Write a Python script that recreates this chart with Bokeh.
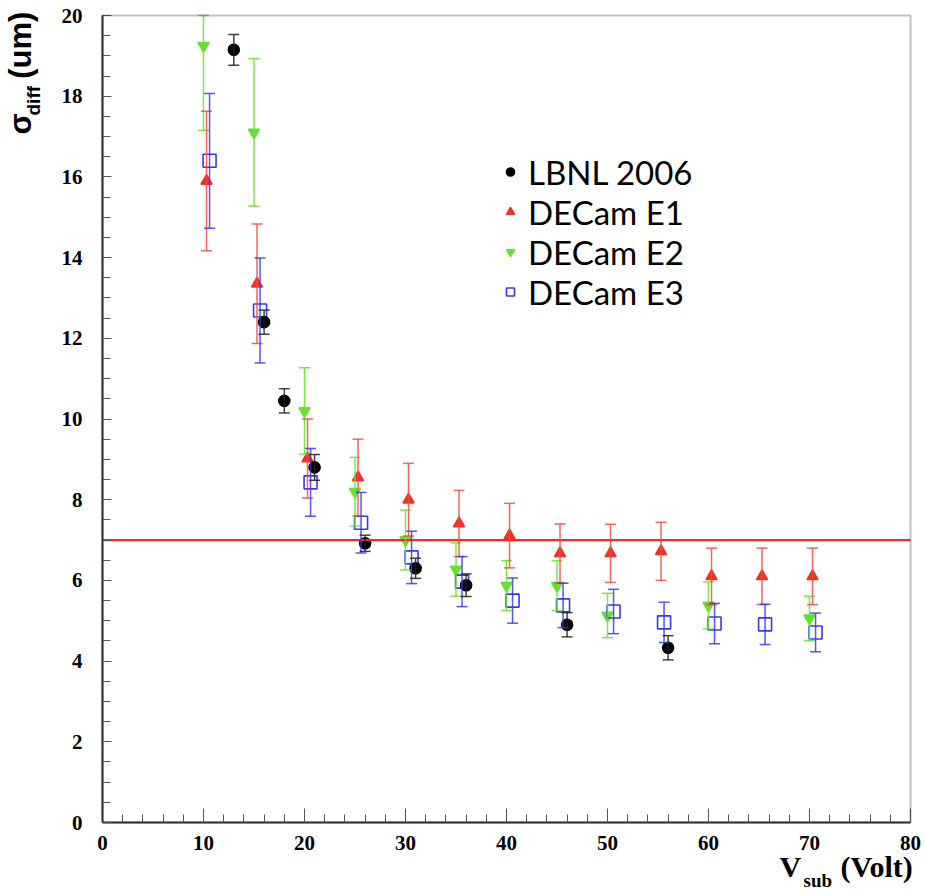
import math
from bokeh.plotting import figure
from bokeh.models import (ColumnDataSource, Whisker, TeeHead, Label, LinearAxis,
                          SingleIntervalTicker, Legend, LegendItem, Range1d, BoxAnnotation)
from bokeh.embed import file_html
from bokeh.resources import INLINE

# ---- data ----
lbnl_v = [13, 16, 18, 21, 26, 31, 36, 46, 56]
lbnl_s = [19.15, 12.4, 10.45, 8.8, 6.92, 6.3, 5.88, 4.9, 4.33]
lbnl_e = [0.38, 0.3, 0.3, 0.32, 0.2, 0.25, 0.28, 0.3, 0.3]

e1_v = [10.3, 15.3, 20.3, 25.3, 30.3, 35.3, 40.3, 45.3, 50.3, 55.3, 60.3, 65.3, 70.3]
e1_s = [15.9, 13.35, 9.02, 8.55, 8.0, 7.41, 7.11, 6.67, 6.67, 6.72, 6.1, 6.1, 6.1]
e1_e = [1.73, 1.48, 0.98, 0.95, 0.9, 0.82, 0.8, 0.73, 0.72, 0.72, 0.7, 0.7, 0.7]

e2_v = [10, 15, 20, 25, 30, 35, 40, 45, 50, 60, 70]
e2_s = [19.25, 17.1, 10.2, 8.2, 7.0, 6.27, 5.87, 5.87, 5.13, 5.38, 5.06]
e2_e = [2.1, 1.83, 1.07, 0.85, 0.74, 0.66, 0.62, 0.62, 0.55, 0.58, 0.55]

e3_v = [10.6, 15.6, 20.6, 25.6, 30.6, 35.6, 40.6, 45.6, 50.6, 55.6, 60.6, 65.6, 70.6]
e3_s = [16.4, 12.69, 8.43, 7.43, 6.57, 5.97, 5.5, 5.38, 5.23, 4.96, 4.93, 4.91, 4.71]
e3_e = [1.67, 1.3, 0.84, 0.75, 0.65, 0.62, 0.56, 0.55, 0.55, 0.5, 0.5, 0.5, 0.48]

threshold = 7.0
series_names = ["LBNL 2006", "DECam E1", "DECam E2", "DECam E3"]

x_range = (0, 80)
y_range = (0, 20)

# ---- layout geometry (pixels): the plotting frame covers the whole canvas,
# the data box occupies [BOX_L, BOX_R] x [BOX_T, BOX_B] of it ----
W, H = 925, 895
BOX_L, BOX_R, BOX_T, BOX_B = 102, 910, 15, 822
xs = (x_range[1] - x_range[0]) / (BOX_R - BOX_L)
ys = (y_range[1] - y_range[0]) / (BOX_B - BOX_T)
x_lo, x_hi = x_range[0] - BOX_L * xs, x_range[1] + (W - BOX_R) * xs
y_lo, y_hi = y_range[0] - (H - BOX_B) * ys, y_range[1] + BOX_T * ys

p = figure(width=W, height=H, output_backend="svg", toolbar_location=None,
           x_range=Range1d(x_lo, x_hi), y_range=Range1d(y_lo, y_hi),
           x_axis_location=None, y_axis_location=None,
           min_border_left=0, min_border_right=0, min_border_top=0,
           min_border_bottom=0)
p.grid.visible = False
p.background_fill_color = "white"
p.border_fill_color = "white"
p.outline_line_color = None

FRAME_COL = "#333333"
TICK_COL = "#555555"

def style_axis(ax):
    ax.axis_line_color = FRAME_COL
    ax.axis_line_width = 2
    ax.major_tick_line_color = TICK_COL
    ax.minor_tick_line_color = TICK_COL
    ax.major_label_text_font = "Liberation Serif"
    ax.major_label_text_font_style = "bold"
    ax.major_label_text_font_size = "21px"
    ax.major_label_text_color = "black"
    ax.major_tick_in = 0
    ax.minor_tick_in = 0

# x axis on the y=0 line: ticks point up into the box, labels below the line
xax = LinearAxis(fixed_location=y_range[0], bounds=x_range,
                 ticker=SingleIntervalTicker(interval=10, num_minor_ticks=5))
style_axis(xax)
xax.major_tick_out = 14
xax.minor_tick_out = 8
xax.major_label_standoff = -41
p.add_layout(xax, "above")

# y axis on the x=0 line: ticks point right into the box, labels left of the line
NB = "\u00a0"
y_ticks = list(range(y_range[0], y_range[1] + 1, 2))
yax = LinearAxis(fixed_location=x_range[0], bounds=y_range,
                 ticker=SingleIntervalTicker(interval=2, num_minor_ticks=4))
style_axis(yax)
yax.major_tick_out = 9
yax.minor_tick_out = 8
yax.major_label_standoff = -50
yax.major_label_overrides = {t: (NB + NB + str(t)) for t in y_ticks if t < 10}
p.add_layout(yax, "right")

# frame box
p.add_layout(BoxAnnotation(left=x_range[0], right=x_range[1], bottom=y_range[0], top=y_range[1],
                           fill_color=None, line_color=FRAME_COL, line_width=2, level="overlay"))

def add_series(v, s, e, color, bar_color, marker, size, fill, lw=1.5):
    src = ColumnDataSource(dict(x=v, y=s,
                                lo=[max(a - b, y_range[0]) for a, b in zip(s, e)],
                                hi=[min(a + b, y_range[1]) for a, b in zip(s, e)]))
    w = Whisker(base="x", upper="hi", lower="lo", source=src,
                line_color=bar_color, line_width=lw, line_alpha=0.85,
                upper_head=TeeHead(size=11, line_color=bar_color, line_width=lw, line_alpha=0.85),
                lower_head=TeeHead(size=11, line_color=bar_color, line_width=lw, line_alpha=0.85),
                level="glyph")
    p.add_layout(w)
    r = p.scatter("x", "y", source=src, marker=marker, size=size,
                  line_color=color, fill_color=fill, line_width=1.6)
    return r

r_e2 = add_series(e2_v, e2_s, e2_e, "#66e22e", "#66e22e", "inverted_triangle", 11, "#66e22e")
r_e1 = add_series(e1_v, e1_s, e1_e, "#ee3322", "#ee4a3e", "triangle", 11, "#ee3322")
r_e3 = add_series(e3_v, e3_s, e3_e, "#3838f0", "#3838f0", "square", 13, None)
r_lb = add_series(lbnl_v, lbnl_s, lbnl_e, "black", "#222222", "circle", 11, "black")

# 7 um reference line across the box
p.line(x=list(x_range), y=[threshold, threshold], line_color="#ee2a2a", line_width=2.2)

legend = Legend(items=[LegendItem(label=series_names[0], renderers=[r_lb]),
                       LegendItem(label=series_names[1], renderers=[r_e1]),
                       LegendItem(label=series_names[2], renderers=[r_e2]),
                       LegendItem(label=series_names[3], renderers=[r_e3])],
                location=(500, H - 311.5), border_line_color=None,
                background_fill_alpha=0, padding=0, margin=0, spacing=0,
                glyph_width=20, glyph_height=39, label_height=39,
                label_standoff=8, label_text_font="Lato",
                label_text_font_size="33px", label_text_color="black")
p.add_layout(legend)

# ---- axis titles (frame covers the canvas; screen units from its bottom-left) ----
def lab(cx, cy, text, font, size, angle=0.0):
    p.add_layout(Label(x=cx, y=H - cy, x_units="screen", y_units="screen", text=text,
                       text_font=font, text_font_size=size, text_font_style="bold",
                       angle=angle, text_color="black"))

lab(779, 882, "V", "Liberation Serif", "30px")
lab(803, 890, "sub", "Liberation Serif", "19px")
lab(840, 882, "(Volt)", "Liberation Serif", "30px")

lab(37, 134, "\u03c3" + NB * 4 + "(um)", "Liberation Sans", "31px", angle=math.pi / 2)
lab(43, 115, "diff", "Liberation Sans", "19px", angle=math.pi / 2)

open("out.html", "w").write(file_html(p, INLINE))
